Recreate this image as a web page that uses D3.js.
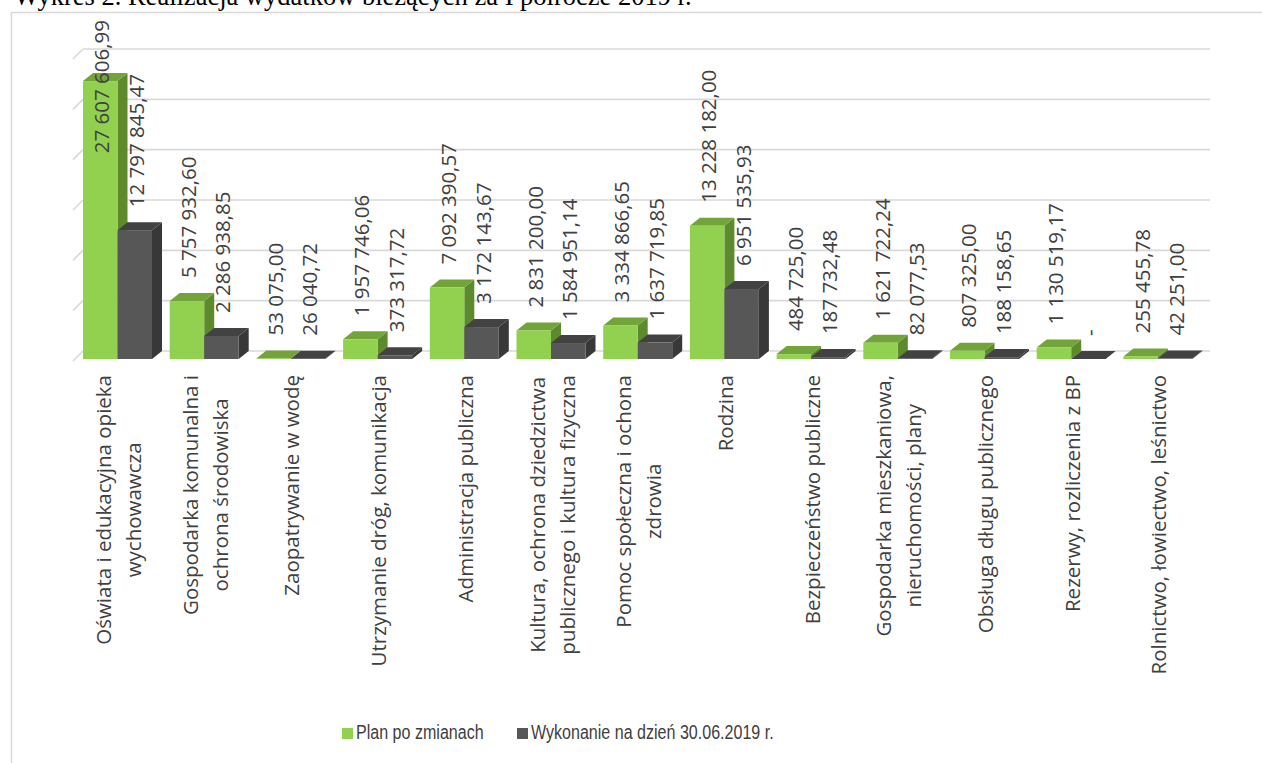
<!DOCTYPE html>
<html>
<head>
<meta charset="utf-8">
<script src="https://cdn.jsdelivr.net/npm/d3@7"></script>
<style>
  body { margin: 0; background: #fff; }
  svg { display: block; }
</style>
</head>
<body>
<script>
// dane z wykresu
const kategorie = [
  ["Oświata i edukacyjna opieka", "wychowawcza"],
  ["Gospodarka komunalna i", "ochrona środowiska"],
  ["Zaopatrywanie w wodę"],
  ["Utrzymanie dróg, komunikacja"],
  ["Administracja publiczna"],
  ["Kultura, ochrona dziedzictwa", "publicznego i kultura fizyczna"],
  ["Pomoc społeczna i ochona", "zdrowia"],
  ["Rodzina"],
  ["Bezpieczeństwo publiczne"],
  ["Gospodarka mieszkaniowa,", "nieruchomości, plany"],
  ["Obsługa długu publicznego"],
  ["Rezerwy, rozliczenia z BP"],
  ["Rolnictwo, łowiectwo, leśnictwo"]
];
const plan = [27607606.99, 5757932.60, 53075.00, 1957746.06, 7092390.57, 2831200.00,
  3334866.65, 13228182.00, 484725.00, 1621722.24, 807325.00, 1130519.17, 255455.78];
const wykonanie = [12797845.47, 2286938.85, 26040.72, 373317.72, 3172143.67, 1584951.14,
  1637719.85, 6951535.93, 187732.48, 82077.53, 188158.65, 0, 42251.00];
const serie = ["Plan po zmianach", "Wykonanie na dzień 30.06.2019 r."];
const tytul = "Wykres 2. Realizacja wydatków bieżących za I półrocze 2019 r.";

const W = 1262, H = 763;
const dx = 10, dy = 8;     // glebokosc 3D
const kolory = [
  { front: "#92d050", top: "#72a43a", side: "#5e8a2e" },
  { front: "#575757", top: "#424242", side: "#383838" }
];
const szary = "#404040";

const svg = d3.select("body").append("svg")
  .attr("width", W).attr("height", H);

// ramka
svg.append("rect")
  .attr("x", 11.5).attr("y", 12.5)
  .attr("width", W + 10).attr("height", H + 10)
  .attr("fill", "none").attr("stroke", "#d9d9d9").attr("stroke-width", 1.5);

svg.append("text")
  .attr("x", 14).attr("y", 5)
  .attr("font-family", "'Liberation Serif', 'Times New Roman', serif")
  .attr("font-size", 26.5)
  .attr("fill", "#000")
  .text(tytul);

const idx = kategorie.map((d, i) => i);

const x = d3.scaleBand()
  .domain(idx)
  .range([73, 73 + 13 * 86.7]);

const xs = d3.scaleBand()
  .domain([0, 1])
  .range([10, 79]);

const y = d3.scaleLinear()
  .domain([0, 30000000])
  .range([351, 49]);

// linie siatki (tylna sciana + skos)
const grid = svg.append("g");
y.ticks(6).forEach(t => {
  grid.append("line")
    .attr("x1", 83).attr("x2", 1210)
    .attr("y1", y(t)).attr("y2", y(t))
    .attr("stroke", "#d9d9d9").attr("stroke-width", 1.6);
  grid.append("line")
    .attr("x1", 73).attr("x2", 83)
    .attr("y1", y(t) + 10).attr("y2", y(t))
    .attr("stroke", "#d9d9d9").attr("stroke-width", 1.6);
});

// slupki 3D
const bars = svg.append("g");
const etykiety = [];
idx.forEach(i => {
  [plan[i], wykonanie[i]].forEach((v, s) => {
    const x0 = x(i) + xs(s), w = xs.bandwidth();
    const yt = y(v) + dy, yb = y(0) + dy;
    const c = kolory[s];
    bars.append("polygon")
      .attr("points", [[x0 + w, yt], [x0 + w + dx, yt - dy], [x0 + w + dx, yb - dy], [x0 + w, yb]].join(" "))
      .attr("fill", c.side);
    bars.append("polygon")
      .attr("points", [[x0, yt], [x0 + w, yt], [x0 + w + dx, yt - dy], [x0 + dx, yt - dy]].join(" "))
      .attr("fill", c.top);
    bars.append("rect")
      .attr("x", x0).attr("y", yt)
      .attr("width", w).attr("height", yb - yt)
      .attr("fill", c.front);
    etykiety.push({ cx: x0 + w / 2 + 1, yTop: yt - dy, v: v });
  });
});

// etykiety danych
const fmt = v => {
  if (v === 0) return "-";
  const [a, b] = v.toFixed(2).split(".");
  return a.replace(/\B(?=(\d{3})+(?!\d))/g, " ") + "," + b;
};
const lab = svg.append("g")
  .attr("font-family", "'Open Sans', sans-serif")
  .attr("font-size", 20.5)
  .attr("fill", szary);
etykiety.forEach(d => {
  const t = lab.append("text")
    .attr("text-anchor", "start")
    .attr("dominant-baseline", "central")
    .text(fmt(d.v));
  const len = t.node().getComputedTextLength();
  let yb = d.yTop - 15;
  if (yb - len < 20) yb = 20 + len;
  t.attr("transform", `translate(${d.cx},${yb}) rotate(-90)`);
});

// etykiety kategorii
const kat = svg.append("g")
  .attr("font-family", "'Open Sans', sans-serif")
  .attr("font-size", 20.5)
  .attr("fill", szary);
kategorie.forEach((linie, i) => {
  const cx = x(i) + 10 + 35;
  const g = kat.append("g");
  const teksty = linie.map(l => g.append("text")
    .attr("text-anchor", "middle")
    .attr("dominant-baseline", "central")
    .text(l));
  const L = d3.max(teksty, t => t.node().getComputedTextLength());
  const cy = 375 + L / 2;
  teksty.forEach((t, k) => {
    const off = (k - (linie.length - 1) / 2) * 30;
    t.attr("transform", `translate(${cx + off},${cy}) rotate(-90)`);
  });
});

// legenda (czcionka zwezona jak Calibri)
const leg = svg.append("g")
  .attr("font-family", "'Liberation Sans', Arial, sans-serif")
  .attr("font-size", 19.6)
  .attr("fill", szary);
const legX = [342, 517];
serie.forEach((s, k) => {
  leg.append("rect")
    .attr("x", legX[k]).attr("y", 728)
    .attr("width", 11).attr("height", 11)
    .attr("fill", kolory[k].front);
  leg.append("text")
    .attr("transform", `translate(${legX[k] + 14},739) scale(0.82,1)`)
    .text(s);
});
</script>
</body>
</html>
